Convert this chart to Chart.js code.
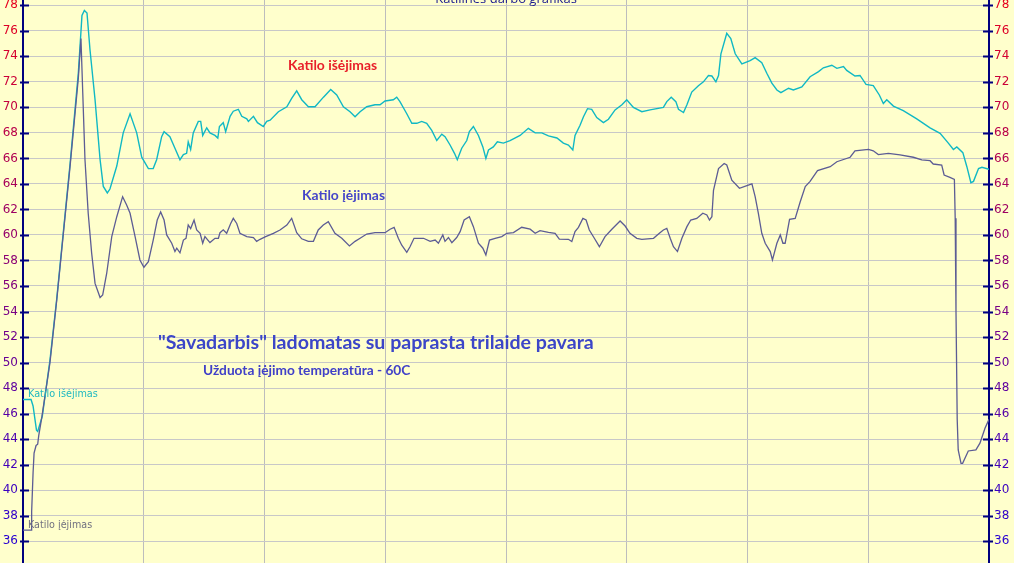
<!DOCTYPE html>
<html>
<head>
<meta charset="utf-8">
<script src="https://cdn.jsdelivr.net/npm/chart.js@4/dist/chart.umd.min.js"></script>
<style>
  body { margin: 0; background: #ffffcc; }
  #grafikas { display: block; }
</style>
</head>
<body>
<canvas id="grafikas" width="1014" height="563"></canvas>
<script>
// Laikas (min) ir temperatūros, nuskaitytos nuo grafiko
const isejimoLaikas = [0, 4, 5, 6.7, 7.3, 9.6, 13.4, 16.7, 23.4, 27.5, 29.3, 30.5, 31.8, 33.3, 35.8, 38.3, 39.9, 41.9, 43.2, 46.6,
  49.8, 53.2, 56.5, 59, 62.3, 64.7, 66.4, 68.9, 70.1, 73, 75.5, 78, 79.7, 81.3, 82.1, 83.3, 84.6, 87.1, 88.3, 89.3,
  91.3, 92.9, 95.4, 96.8, 97.6, 99.5, 100.7, 102.9, 104.5, 107, 108.7, 111.2, 112, 114.5, 116.5, 119.4, 121.1, 122.8, 126.9, 131.1,
  133.5, 136, 138.5, 141.8, 145.1, 149.3, 152.9, 155.9, 159.2, 162.5, 165, 167.5, 170.8, 174.9, 177.4, 179.9, 184, 185.7, 187.3, 190.7,
  193.2, 195.7, 198.1, 200.6, 203.1, 205.6, 208.1, 209.7, 212.2, 214.4, 215.8, 218, 220.5, 221.8, 223.8, 226.3, 228.5, 230, 231.3, 233.7,
  235.7, 238.7, 242, 247, 251.1, 254.5, 257.8, 261.1, 265.3, 268.5, 271, 273.2, 274.3, 276.8, 278.5, 280.5, 282.6, 285.1, 288.4, 290.9,
  294.2, 297.6, 300, 303.3, 307.5, 311.6, 318.2, 319.9, 322.1, 324.4, 325.7, 328.2, 329.9, 332.3, 335.6, 338.1, 340.6, 342.3, 344.3, 345.6,
  346.8, 349.7, 351.7, 353.9, 357.2, 361.3, 363.8, 367.1, 369.6, 372.1, 374.6, 376.6, 380.4, 382.8, 387, 391.1, 395.3, 397.7, 401.9, 404.4,
  407.7, 409.3, 413.4, 415.9, 418.9, 422.5, 425.5, 427.5, 429.2, 432.5, 437.4, 444.1, 450.7, 455.7, 459.8, 462.3, 464, 467, 469, 471,
  472.3, 474.8, 476.5, 480];
const isejimoTemp = [47.1, 47.1, 46.6, 44.7, 44.6, 45.8, 50.2, 54.9, 65.6, 72.7, 77.2, 77.6, 77.4, 74.5, 70.6, 65.9, 63.8, 63.3, 63.6, 65.4,
  68.0, 69.5, 68.0, 66.1, 65.2, 65.2, 65.9, 67.7, 68.1, 67.7, 66.8, 65.9, 66.3, 66.4, 67.3, 66.7, 68.0, 68.9, 68.9, 67.8,
  68.4, 68.0, 67.8, 67.6, 68.5, 68.8, 68.1, 69.3, 69.7, 69.85, 69.3, 69.1, 68.9, 69.3, 68.8, 68.5, 68.9, 69.0, 69.66, 70.05,
  70.7, 71.3, 70.6, 70.05, 70.05, 70.8, 71.4, 70.97, 70.05, 69.66, 69.27, 69.66, 70.05, 70.2, 70.2, 70.5, 70.6, 70.8, 70.45, 69.5,
  68.75, 68.75, 68.9, 68.75, 68.2, 67.4, 67.9, 67.7, 67.05, 66.4, 65.9, 66.8, 67.4, 68.1, 68.5, 67.8, 66.9, 66.0, 66.66, 66.9,
  67.3, 67.2, 67.4, 67.8, 68.36, 68.0, 68.0, 67.76, 67.6, 67.2, 67.05, 66.66, 67.8, 68.6, 69.27, 69.9, 69.85, 69.2, 68.8, 69.07,
  69.8, 70.2, 70.6, 70.0, 69.66, 69.8, 70.0, 70.45, 70.8, 70.45, 69.85, 69.6, 70.2, 71.2, 71.7, 72.0, 72.5, 72.46, 72.0, 72.5,
  74.2, 75.8, 75.4, 74.2, 73.4, 73.66, 73.9, 73.5, 72.67, 71.9, 71.36, 71.15, 71.5, 71.36, 71.6, 72.4, 72.8, 73.1, 73.3, 73.06,
  73.2, 72.9, 72.46, 72.5, 71.8, 71.7, 70.97, 70.3, 70.6, 70.1, 69.74, 69.1, 68.4, 67.97, 67.2, 66.7, 66.9, 66.45, 65.35, 64.1,
  64.2, 65.2, 65.3, 65.15];

const iejimoLaikas = [0, 4, 4.3, 5, 5.5, 6.5, 7.3, 7.8, 9.4, 13.4, 16.7, 23.4, 27.5, 28.8, 29.7, 30.8, 32.4, 34.1, 35.8, 38.3,
  39.6, 41.6, 44.1, 46.6, 49.5, 51.5, 53.2, 55.7, 58.1, 60.1, 62.3, 64.7, 66.7, 68.4, 70.1, 71.4, 73.9, 75.5, 76.4, 78,
  79.7, 81, 82.1, 83.3, 85, 86.3, 88, 89.3, 90.4, 92.9, 95.4, 97.1, 97.9, 99.5, 101.2, 103.2, 104.5, 106.2, 107.8, 111.2,
  114.5, 116.1, 117.8, 120.3, 124.4, 127.7, 131.1, 133.5, 136, 138.5, 141.8, 144.3, 146.7, 149.2, 151.7, 155, 158.4, 162.2, 165, 167.5,
  170.8, 174.9, 179.9, 182.4, 184.4, 186.5, 188.2, 190.7, 192.3, 194.3, 199, 202.3, 204.8, 206.4, 208.6, 209.7, 211.4, 213.1, 215.5, 217.2,
  219.2, 221.8, 223.8, 226.3, 228.5, 230, 231.8, 234.6, 237.9, 240.4, 243.7, 247.8, 252, 254.5, 256.9, 261.1, 264.4, 266.5, 271, 272.7,
  274.3, 276, 278.2, 279.8, 281.4, 283.9, 286.4, 289.2, 292.6, 294.7, 296.7, 299.2, 301.6, 305, 307.5, 313.3, 316.2, 318.2, 319.9, 321.6,
  323.2, 325.2, 327.4, 329.9, 331.8, 334.8, 337.8, 339.8, 341.1, 342.3, 343.1, 345.6, 348.4, 349.7, 352.2, 356, 359.7, 362.2, 363.8, 365.4,
  367.1, 368.8, 371.3, 372.4, 374.6, 376.3, 377.6, 378.7, 380.9, 383.7, 386.2, 388.7, 391.1, 394.8, 401.1, 404.4, 411, 413.4, 420.1, 422.5,
  425, 430, 435.8, 442.4, 446.6, 450.7, 452.3, 456.5, 457.7, 460.6, 462.8, 463.2, 463.6, 464.2, 464.7, 466.1, 466.9, 469.7, 473.5, 475.5,
  478, 480];
const iejimoTemp = [36.86, 36.86, 38.3, 41.35, 42.9, 43.5, 43.6, 44.25, 45.76, 50.0, 54.8, 65.4, 72.3, 75.4, 71.1, 65.9, 61.7, 58.6, 56.2, 55.1,
  55.3, 57.0, 59.87, 61.43, 63.0, 62.35, 61.7, 59.87, 58.04, 57.47, 57.9, 59.6, 61.17, 61.8, 61.17, 60.0, 59.35, 58.7, 58.96, 58.6,
  59.6, 59.74, 60.78, 60.5, 61.17, 60.39, 60.13, 59.35, 59.87, 59.4, 59.74, 59.74, 60.18, 60.4, 60.13, 60.9, 61.3, 60.9, 60.13, 59.87,
  59.8, 59.5, 59.66, 59.85, 60.13, 60.39, 60.78, 61.3, 60.18, 59.7, 59.5, 59.5, 60.39, 60.78, 61.04, 60.13, 59.74, 59.14, 59.5, 59.74,
  60.07, 60.18, 60.18, 60.45, 60.6, 59.74, 59.2, 58.64, 59.08, 59.74, 59.74, 59.5, 59.6, 59.35, 60.0, 59.5, 59.8, 59.4, 59.8, 60.26,
  61.17, 61.43, 60.65, 59.35, 58.96, 58.43, 59.6, 59.74, 59.87, 60.13, 60.18, 60.6, 60.45, 60.13, 60.34, 60.2, 60.13, 59.68, 59.66, 59.48,
  60.26, 60.6, 61.3, 61.17, 60.39, 59.74, 59.08, 59.87, 60.45, 60.78, 61.1, 60.7, 60.13, 59.74, 59.66, 59.74, 60.13, 60.39, 60.52, 59.74,
  59.08, 58.7, 59.74, 60.65, 61.17, 61.3, 61.7, 61.57, 61.17, 61.43, 63.5, 65.2, 65.6, 65.48, 64.3, 63.66, 63.86, 64.0, 63.0, 61.7,
  60.13, 59.35, 58.7, 58.04, 59.35, 60.0, 59.35, 59.35, 61.23, 61.3, 62.6, 63.8, 64.2, 65.04, 65.35, 65.74, 66.09, 66.6, 66.7, 66.6,
  66.3, 66.4, 66.27, 66.09, 65.88, 65.82, 65.56, 65.48, 64.7, 64.52, 64.36, 61.3, 54.0, 45.55, 43.15, 42.1, 42.1, 43.07, 43.15, 43.68,
  44.85, 45.55];

const yTicks = [36, 38, 40, 42, 44, 46, 48, 50, 52, 54, 56, 58, 60, 62, 64, 66, 68, 70, 72, 74, 76, 78];

// spalva nuo raudonos (viršuje) iki mėlynos (apačioje)
function tickColor(v) {
  const k = (v - 36) / 42;
  const r = Math.round(40 + 190 * k), g = 0, b = Math.round(210 - 180 * k);
  return 'rgb(' + r + ',' + g + ',' + b + ')';
}

function fitText(ctx, txt, x, y, w, font, color) {
  ctx.font = font.replace('SIZE', '20px');
  const m = ctx.measureText(txt).width;
  ctx.font = font.replace('SIZE', (20 * w / m).toFixed(1) + 'px');
  ctx.fillStyle = color;
  ctx.textAlign = 'left';
  ctx.textBaseline = 'alphabetic';
  ctx.fillText(txt, x, y);
}

const uzrasai = {
  id: 'uzrasai',
  afterDatasetsDraw(chart) {
    const ctx = chart.ctx;
    const a = chart.chartArea;
    const yl = chart.scales.y;
    ctx.save();
    // ašių brūkšneliai
    ctx.strokeStyle = '#000080';
    ctx.lineWidth = 2;
    yTicks.forEach(v => {
      const py = Math.round(yl.getPixelForValue(v)) + 0.5;
      ctx.beginPath();
      ctx.moveTo(a.left - 3, py); ctx.lineTo(a.left + 6, py);
      ctx.moveTo(a.right - 6, py); ctx.lineTo(a.right + 4, py);
      ctx.stroke();
    });
    // antraštė (nukirpta viršuje)
    ctx.font = '13px "Open Sans"';
    ctx.fillStyle = '#1a1a90';
    ctx.textAlign = 'center';
    ctx.textBaseline = 'alphabetic';
    ctx.fillText('Katilinės darbo grafikas', 506, 3);

    fitText(ctx, 'Katilo išėjimas', 288, 70, 89, 'bold SIZE Lato', '#e8202a');
    fitText(ctx, 'Katilo įėjimas', 302, 200, 83, 'bold SIZE Lato', '#4646c8');
    fitText(ctx, '"Savadarbis" ladomatas su paprasta trilaide pavara', 158, 349, 435, 'bold SIZE Lato', '#3c46c8');
    fitText(ctx, 'Užduota įėjimo temperatūra - 60C', 203, 375, 207, 'bold SIZE Lato', '#4040c8');
    fitText(ctx, 'Katilo išėjimas', 28, 397, 70, 'SIZE "DejaVu Sans"', '#20b8c0');
    fitText(ctx, 'Katilo įėjimas', 28, 528, 64, 'SIZE "DejaVu Sans"', '#707080');
    ctx.restore();
  }
};

function taskai(xs, ys) {
  return xs.map((x, i) => ({ x: x, y: ys[i] }));
}

// y ašis be papildomų paraščių viršuje ir apačioje
function yAsis(s, w) {
  s.width = w;
  s.paddingTop = 0;
  s.paddingBottom = 0;
}

const ctx = document.getElementById('grafikas').getContext('2d');
const grafikas = new Chart(ctx, {
  type: 'line',
  data: {
    datasets: [
      {
        label: 'Katilo įėjimas',
        data: taskai(iejimoLaikas, iejimoTemp),
        borderColor: '#5c5c94',
        borderWidth: 1.3,
        pointRadius: 0,
        tension: 0
      },
      {
        label: 'Katilo išėjimas',
        data: taskai(isejimoLaikas, isejimoTemp),
        borderColor: '#10b8c4',
        borderWidth: 1.4,
        pointRadius: 0,
        tension: 0
      }
    ]
  },
  options: {
    responsive: false,
    animation: false,
    layout: { padding: 0 },
    plugins: { legend: { display: false }, tooltip: { enabled: false } },
    scales: {
      x: {
        type: 'linear',
        min: 0,
        max: 480,
        ticks: { display: false, stepSize: 60 },
        grid: {
          drawTicks: false,
          color: c => (c.tick.value === 0 || c.tick.value === 480) ? 'rgba(0,0,0,0)' : '#bdbdbd'
        },
        border: { display: false },
        afterFit: s => { s.height = 0; s.paddingLeft = 0; s.paddingRight = 0; }
      },
      y: {
        position: 'left',
        min: 34.29,
        max: 78.415,
        afterBuildTicks: s => { s.ticks = yTicks.map(v => ({ value: v })); },
        afterFit: s => yAsis(s, 23),
        ticks: {
          padding: 5,
          font: { family: '"DejaVu Sans"', size: 12 },
          color: c => tickColor(c.tick.value)
        },
        grid: { drawTicks: false, color: '#c8c8c8' },
        border: { color: '#000080', width: 2 }
      },
      y2: {
        position: 'right',
        min: 34.29,
        max: 78.415,
        afterBuildTicks: s => { s.ticks = yTicks.map(v => ({ value: v })); },
        afterFit: s => yAsis(s, 25),
        ticks: {
          padding: 5,
          font: { family: '"DejaVu Sans"', size: 12 },
          color: c => tickColor(c.tick.value)
        },
        grid: { drawTicks: false, drawOnChartArea: false },
        border: { color: '#000080', width: 2 }
      }
    }
  },
  plugins: [uzrasai]
});
</script>
</body>
</html>
